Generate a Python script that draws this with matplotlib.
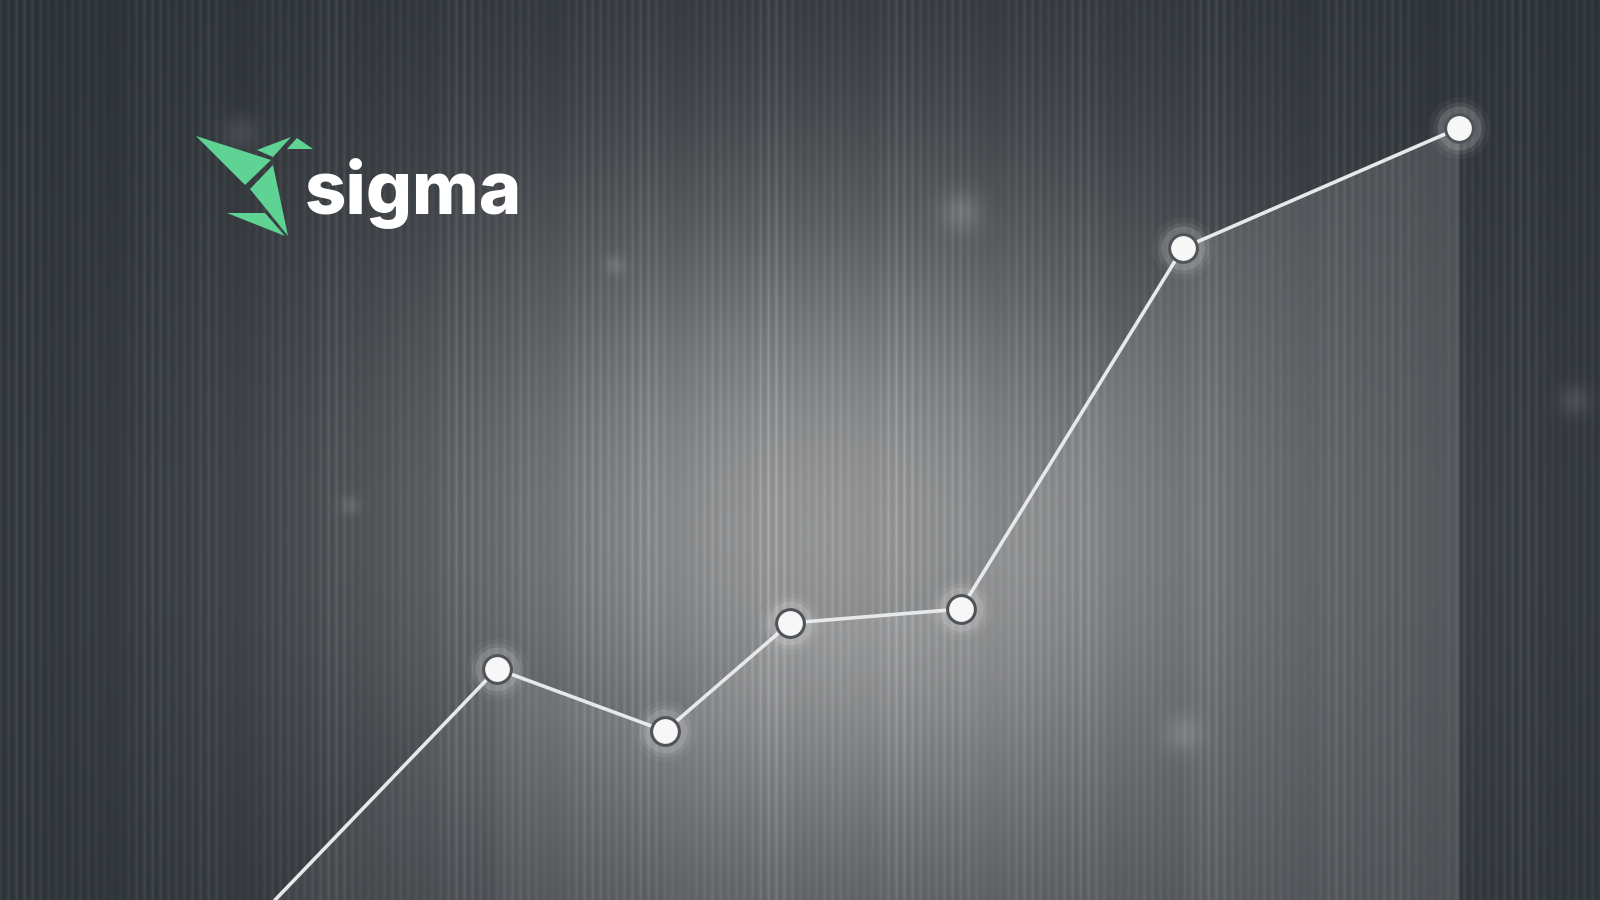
import numpy as np
import matplotlib
matplotlib.use("Agg")
import matplotlib.pyplot as plt
from matplotlib.patches import Polygon

# ---- data (x position, value from bottom) ----
x_vals = [275, 497, 665, 790, 961, 1183, 1459]
y_vals = [0, 231, 169, 277, 291, 652, 772]
col_alpha = [0.06, 0.09, 0.11, 0.10, 0.11, 0.13]

logo_text = "sigma"

W, H = 1600, 900
fig = plt.figure(figsize=(16, 9), dpi=100)
ax = fig.add_axes([0, 0, 1, 1])
ax.set_xlim(0, W)
ax.set_ylim(0, H)
ax.axis("off")

# ---- background: dark with radial glow + vertical stripes ----
yy, xx = np.mgrid[0:H, 0:W].astype(float)
g1 = np.exp(-(((xx - 825) / 290.0) ** 2 + ((yy - 530) / 230.0) ** 2) / 2)
g2 = np.exp(-(((xx - 820) / 520.0) ** 2 + ((yy - 560) / 420.0) ** 2) / 2)
dark = np.array([0.165, 0.185, 0.205])
glow = np.array([0.62, 0.62, 0.62])
w = np.clip(0.72 * g1 + 0.16 * g2, 0, 1)[..., None]
img = dark + (glow - dark) * w

# stripes
xs = np.arange(W, dtype=float)
p = (0.5 + 0.5 * np.cos(2 * np.pi * xs / 8.0)) ** 2
amp = 0.6 + 0.4 * np.sin(xs * 0.0713) * np.sin(xs * 0.0291 + 1.0)
stripe = (p * amp)[None, :]
img = img + (0.065 + 0.045 * w[..., 0])[..., None] * stripe[..., None]

# soft bokeh spots (decoration)
for (bx, by, r, a) in [(961, 211, 14, 0.10), (615, 265, 7, 0.08), (350, 505, 7, 0.08),
                       (1183, 733, 13, 0.09), (1574, 400, 11, 0.08), (240, 133, 13, 0.07)]:
    s = np.exp(-(((xx - bx) ** 2 + (yy - by) ** 2) / (2 * r * r)))
    img = img + a * s[..., None]

img = np.clip(img, 0, 1)
ax.imshow(img, extent=(0, W, 0, H), origin="upper", aspect="auto", zorder=0,
          interpolation="bilinear")

# ---- shaded columns under each segment ----
for i in range(len(x_vals) - 1):
    ax.fill_between([x_vals[i], x_vals[i + 1]], [y_vals[i], y_vals[i + 1]], 0,
                    color="white", alpha=col_alpha[i], lw=0, zorder=1)

# ---- line ----
ax.plot(x_vals, y_vals, color="#e6e8ea", lw=2.6, zorder=3, solid_capstyle="round")

# ---- markers with glow ----
mx, my = x_vals[1:], y_vals[1:]
for s, a in [(2000, 0.04), (1400, 0.07), (1000, 0.13)]:
    ax.scatter(mx, my, s=s, color="white", alpha=a, lw=0, zorder=4)
ax.plot(mx, my, "o", ms=20, mfc="#f7f7f7", mec="#505357", mew=2.2, ls="none", zorder=5)

# ---- logo ----
green = "#5fd394"
tris = [
    [(196, 136), (271, 160), (245, 185)],
    [(250, 189), (273, 165), (288, 236)],
    [(227, 213), (265, 213), (285, 236)],
    [(257, 150), (291, 137), (273, 157)],
    [(287, 149), (297, 138), (313, 149)],
]
for t in tris:
    ax.add_patch(Polygon([(px, H - py) for px, py in t], closed=True,
                         fc=green, ec="none", zorder=6))

ax.text(305, H - 214, logo_text, fontsize=52, fontweight="heavy", family="Inter",
        color="white", va="baseline", ha="left", zorder=6)

fig.savefig("out.png", dpi=100)
